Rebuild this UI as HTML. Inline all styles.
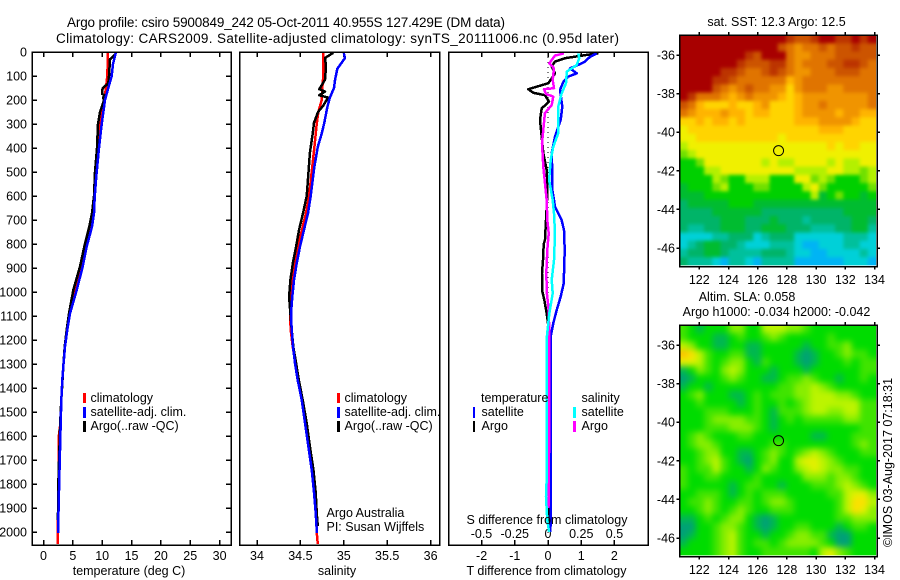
<!DOCTYPE html>
<html>
<head>
<meta charset="utf-8">
<style>
html,body{margin:0;padding:0;background:#fff;width:900px;height:580px;overflow:hidden}
svg{display:block}
text{font-family:"Liberation Sans",sans-serif;font-size:12.5px;fill:#000}
</style>
</head>
<body>
<svg id="fig" width="900" height="580" viewBox="0 0 900 580" xmlns="http://www.w3.org/2000/svg">
<defs>
<filter id="blurSst" x="-10%" y="-10%" width="120%" height="120%" color-interpolation-filters="sRGB"><feGaussianBlur stdDeviation="1.8"/></filter>
<filter id="blurSla" x="-10%" y="-10%" width="120%" height="120%" color-interpolation-filters="sRGB"><feGaussianBlur stdDeviation="3.2"/></filter>
<clipPath id="clipSst"><rect x="679.5" y="35" width="196.6" height="230.4"/></clipPath>
<clipPath id="clipSla"><rect x="679.5" y="325" width="196.6" height="230.4"/></clipPath>
</defs>
<rect width="900" height="580" fill="#fff"/>
<text x="67" y="27" style="font-size:13.5px" textLength="438">Argo profile: csiro 5900849_242 05-Oct-2011 40.955S 127.429E (DM data)</text>
<text x="56" y="43" style="font-size:13.5px" textLength="563">Climatology: CARS2009. Satellite-adjusted climatology: synTS_20111006.nc (0.95d later)</text>
<g id="plots"></g>
<text x="129" y="575" text-anchor="middle">temperature (deg C)</text>
<text x="337" y="575" text-anchor="middle">salinity</text>
<text x="546.5" y="575" text-anchor="middle">T difference from climatology</text>
<text x="547" y="524" text-anchor="middle">S difference from climatology</text>
<text x="326.5" y="517">Argo Australia</text>
<text x="326.5" y="531">PI: Susan Wijffels</text>

<g>
<rect x="83" y="393" width="3" height="10" fill="#f00"/>
<rect x="83" y="407" width="3" height="11" fill="#00f"/>
<rect x="83" y="421" width="3" height="11" fill="#000"/>
<text x="90.5" y="402">climatology</text>
<text x="90.5" y="416">satellite-adj. clim.</text>
<text x="90.5" y="430">Argo(..raw -QC)</text>
</g>
<g>
<rect x="337" y="393" width="3" height="10" fill="#f00"/>
<rect x="337" y="407" width="3" height="11" fill="#00f"/>
<rect x="337" y="421" width="3" height="11" fill="#000"/>
<text x="344.5" y="402">climatology</text>
<text x="344.5" y="416">satellite-adj. clim.</text>
<text x="344.5" y="430">Argo(..raw -QC)</text>
</g>
<g>
<text x="481" y="402">temperature</text>
<text x="581.5" y="402">salinity</text>
<rect x="473" y="407" width="2" height="11" fill="#00f"/>
<rect x="473" y="421" width="2" height="11" fill="#000"/>
<rect x="573" y="407" width="3" height="11" fill="#0ff"/>
<rect x="573" y="421" width="3" height="11" fill="#f0f"/>
<text x="481.5" y="416">satellite</text>
<text x="481.5" y="430">Argo</text>
<text x="581.5" y="416">satellite</text>
<text x="581.5" y="430">Argo</text>
</g>

<g id="maps"></g>
<text x="776.5" y="26" text-anchor="middle">sat. SST: 12.3 Argo: 12.5</text>
<text x="747" y="301" text-anchor="middle">Altim. SLA: 0.058</text>
<text x="776.5" y="316" text-anchor="middle">Argo h1000: -0.034 h2000: -0.042</text>
<text transform="translate(892,547) rotate(-90)">©IMOS 03-Aug-2017 07:18:31</text>
</svg>
<script>
// ---- axis tick values ----
const depthTicks = [0,100,200,300,400,500,600,700,800,900,1000,1100,1200,1300,1400,1500,1600,1700,1800,1900,2000];
const tempTicks = [0,5,10,15,20,25,30];
const salTicks = [34,34.5,35,35.5,36];
const salTickLabels = ['34','34.5','35','35.5','36'];
const dtTicks = [-2,-1,0,1,2];
const dtTickLabels = ['-2','-1','0','1','2'];
const dsTicks = [-0.5,-0.25,0,0.25,0.5];
const dsTickLabels = ['-0.5','-0.25','0','0.25','0.5'];
const lonTicks = [122,124,126,128,130,132,134];
const latTicks = [-36,-38,-40,-42,-44,-46];

// ---- temperature panel ----
const tClimDepth = [0,100,150,200,300,400,500,600,672,742,811,881,950,1019,1089,1158,1228,1311,1367,1450,1546,1600,1776,1950,2050];
const tClimValue = [10.99,10.87,10.65,10.31,9.63,9.28,8.94,8.72,8.42,7.95,7.14,6.45,5.66,5.12,4.4,4.0,3.63,3.37,3.2,3.03,2.9,2.6,2.6,2.45,2.42];
const tArgoDepth = [5,10,20,30,100,130,150,160,175,180,190,200,250,300,400,500,600,672,728,811,894,992,1089,1158,1228,1311,1450,1546,1776,1950];
const tArgoValue = [12.35,12.18,11.84,11.33,11.16,11.04,10.14,9.97,9.97,10.48,10.14,10.31,9.63,9.28,9.11,8.77,8.6,8.26,7.8,6.95,6.22,5.08,4.34,3.95,3.61,3.37,3.03,2.85,2.55,2.45];
const tSatDepth = [0,50,100,150,200,300,400,500,533,603,672,728,811,894,992,1089,1158,1228,1311,1367,1450,1546,1776,1950,2004];
const tSatValue = [12.35,11.84,11.62,11.04,10.48,9.91,9.45,9.06,8.94,8.72,8.6,8.26,7.36,6.68,5.66,4.51,4.05,3.66,3.37,3.2,3.03,2.93,2.69,2.52,2.5];

// ---- salinity panel ----
const sClimDepth = [0,100,150,200,250,300,400,500,600,672,742,811,881,950,1019,1089,1158,1228,1367,1546,1740,1919,2000,2050];
const sClimValue = [34.764,34.764,34.752,34.745,34.706,34.688,34.66,34.63,34.6,34.563,34.517,34.472,34.43,34.404,34.392,34.38,34.388,34.411,34.475,34.565,34.645,34.69,34.688,34.7];
const sArgoDepth = [3,25,60,115,155,165,180,190,225,250,295,340,420,517,600,672,742,811,881,950,1019,1089,1158,1228,1297,1367,1450,1546,1644,1740,1836,1919,1975];
const sArgoValue = [34.88,34.783,34.795,34.783,34.718,34.783,34.718,34.818,34.76,34.703,34.657,34.642,34.61,34.59,34.573,34.53,34.484,34.45,34.412,34.385,34.37,34.385,34.4,34.418,34.45,34.482,34.527,34.573,34.61,34.65,34.676,34.688,34.7];
const sSatDepth = [5,25,70,115,150,190,230,295,340,395,480,600,672,742,811,881,950,1019,1089,1158,1228,1297,1367,1450,1546,1644,1740,1836,1919,2004];
const sSatValue = [35.0,35.014,34.925,34.9,34.887,34.84,34.81,34.775,34.745,34.7,34.66,34.619,34.588,34.54,34.495,34.457,34.426,34.407,34.392,34.4,34.415,34.438,34.469,34.515,34.553,34.592,34.63,34.657,34.676,34.69];

// ---- difference panel ----
const dtArgoDepth = [6,12,26,40,61,89,110,130,155,170,180,207,235,283,353,422,492,547,620,700,783,800,867,922,992,1033,1089,1130,1990];
const dtArgoValue = [1.515,1.166,0.512,0.211,0.111,0.211,0.111,0.009,-0.593,-0.443,-0.09,0.03,-0.19,-0.241,-0.19,-0.142,-0.039,-0.021,-0.03,-0.06,-0.09,-0.13,-0.15,-0.18,-0.18,-0.111,-0.039,0,0.045];
const dtSatDepth = [6,20,40,54,68,89,103,125,158,228,283,353,422,506,575,617,644,700,742,825,964,1019,1075,1130,1186,1367,2000];
const dtSatValue = [1.467,1.265,1.114,0.904,0.663,0.864,0.602,0.461,0.361,0.431,0.383,0.211,0.111,0.13,0.13,0.18,0.211,0.41,0.482,0.503,0.473,0.383,0.262,0.16,0.081,0.081,0.075];
const dsSatDepth = [6,25,54,82,130,172,228,339,394,450,533,617,672,756,867,950,1006,1089,1186,1754,1853,1950,2000];
const dsSatValue = [0.228,0.235,0.216,0.141,0.135,0.103,0.077,0.077,0.04,0.02,0.008,0.035,0.045,0.053,0.045,0.028,0.035,0.01,-0.008,-0.008,-0.015,-0.005,0.008];
const dsArgoDepth = [6,15,47,68,117,151,155,175,186,221,255,381,478,589,617,700,756,825,922,1006,1075,1172,1540,1900];
const dsArgoValue = [0.12,0.053,0.01,0.045,0.035,0.045,-0.03,-0.015,0.04,0.028,-0.023,-0.045,-0.035,-0.015,-0.01,-0.005,0.005,-0.005,-0.013,-0.008,0.005,0.01,0.01,0.004];

// ---- SST map: colour-class per cell, north to south ----
const sstLevels = [
[0,0,0,0,0,0,0,0,0,0,0,0,0,1,2,2,1,0,0,1,1,0,1,0],
[0,0,0,0,0,0,0,0,0,0,0,0,2,3,4,3,3,2,3,2,2,1,2,2],
[0,0,0,0,0,0,0,0,1,2,0,0,0,3,4,4,3,3,3,2,2,2,2,2],
[0,0,0,0,0,0,0,1,2,2,2,1,1,3,4,3,3,3,2,2,1,1,2,3],
[0,0,0,0,0,1,1,2,3,3,2,1,2,3,4,4,3,3,3,2,2,2,3,3],
[0,0,0,0,1,1,2,3,3,3,3,3,3,5,4,3,3,3,3,3,3,3,3,3],
[0,0,0,0,2,3,4,3,2,3,3,4,4,6,4,3,3,3,4,4,3,3,3,3],
[0,1,3,3,3,4,5,4,3,4,4,4,5,6,5,4,4,4,4,4,4,4,4,3],
[2,3,5,6,6,6,5,6,6,5,4,6,6,6,5,4,4,3,4,4,4,4,4,3],
[3,4,5,5,5,4,5,5,6,5,5,6,6,6,5,4,4,4,4,5,4,4,5,5],
[6,6,5,6,5,5,6,5,6,6,6,6,6,6,5,5,5,4,4,4,4,5,6,6],
[7,6,6,6,6,6,6,6,6,6,6,6,6,6,6,6,6,5,5,5,6,6,6,6],
[7,7,6,6,6,6,6,6,6,6,6,6,7,6,6,6,6,6,6,6,6,6,6,6],
[8,7,7,7,7,7,7,7,7,7,7,7,7,7,7,7,7,7,6,7,6,6,7,7],
[9,8,7,7,7,7,7,7,7,7,7,7,7,7,7,7,7,7,7,7,7,7,7,7],
[10,10,9,7,7,7,7,7,7,7,8,7,8,8,7,7,7,7,8,7,8,8,7,7],
[10,10,10,8,8,7,7,7,7,7,7,7,7,7,8,8,8,8,7,7,8,8,9,8],
[10,10,10,10,8,9,10,10,8,8,8,10,10,10,7,7,9,8,9,10,10,10,9,8],
[11,10,10,10,9,8,10,10,10,9,9,10,10,10,10,8,7,9,10,10,10,10,10,9],
[11,11,11,10,10,10,10,10,10,10,10,10,10,10,10,10,8,11,10,9,10,10,11,10],
[12,11,11,11,11,11,10,10,10,11,11,11,11,11,11,11,11,11,11,11,11,11,11,11],
[12,12,12,12,11,11,11,11,11,11,12,12,12,12,12,12,12,12,12,12,11,11,11,11],
[12,12,12,12,12,11,11,11,12,12,12,11,12,12,12,13,12,12,12,12,12,11,11,12],
[12,13,13,12,12,11,11,11,12,12,11,11,11,12,12,12,13,13,13,12,12,11,11,13],
[14,14,14,14,13,13,12,12,12,14,13,12,12,12,14,14,14,14,14,14,13,13,13,14],
[14,13,12,11,11,12,12,13,14,14,14,13,13,13,14,15,15,14,14,14,13,13,14,14],
[13,12,12,11,11,12,13,13,13,13,12,12,12,13,14,14,15,15,14,14,14,14,13,14],
[12,13,13,13,14,15,13,13,14,15,13,13,13,13,15,15,15,15,15,15,14,14,14,15]
];
// ---- SLA map: colour-class per cell, north to south ----
const slaLevels = [
[3,2,1,2,2,2,4,4,2,2,5,5,5,4,4,3,2,2,2,2,2,2,2,2],
[3,2,2,2,1,1,2,3,2,2,3,4,3,2,2,2,2,2,3,2,2,2,2,2],
[5,4,2,2,1,1,2,2,1,1,2,2,2,2,2,1,2,2,3,3,4,2,2,2],
[8,7,5,3,2,2,3,3,1,1,2,2,2,2,1,0,1,2,2,3,4,3,3,2],
[6,6,5,3,2,3,4,4,2,1,3,2,2,2,1,0,1,2,2,2,3,2,3,3],
[1,2,4,3,2,4,5,4,2,2,2,1,2,2,2,1,2,2,2,2,2,2,3,3],
[0,1,2,2,2,3,4,3,2,2,1,1,2,3,3,4,3,2,2,1,2,2,3,2],
[1,2,2,1,2,2,2,2,2,2,2,2,3,3,4,4,5,4,3,2,2,2,2,2],
[2,3,4,2,2,2,1,1,2,3,2,3,3,3,4,4,5,5,5,4,4,3,2,2],
[2,2,3,2,2,2,2,1,2,3,2,2,3,2,3,4,5,5,5,5,5,5,3,3],
[2,2,2,3,3,3,2,2,2,3,2,1,3,3,3,4,5,5,4,4,5,5,3,3],
[2,2,2,3,4,4,4,4,3,3,2,1,2,3,2,3,3,3,3,3,4,4,3,3],
[2,2,2,3,3,3,4,4,4,3,2,1,2,2,2,2,2,2,2,2,2,2,3,3],
[2,3,4,3,2,2,2,3,3,2,2,2,2,2,2,2,1,1,2,2,2,3,3,3],
[2,3,4,4,3,2,2,2,2,2,2,3,3,2,2,2,2,2,2,2,2,3,4,3],
[2,2,3,4,4,2,2,1,1,2,3,4,3,2,3,4,5,4,3,2,2,2,3,3],
[2,2,3,4,5,3,2,1,0,2,3,4,2,2,5,6,6,5,4,3,2,2,2,2],
[3,2,3,3,5,3,2,2,1,2,4,3,2,2,4,5,6,5,4,4,3,3,2,2],
[3,2,2,3,3,2,2,2,2,3,2,2,2,2,2,4,4,4,3,4,4,3,2,2],
[3,2,2,2,2,2,1,2,3,3,2,2,1,2,2,2,3,3,3,4,5,4,3,2],
[2,2,3,3,3,2,1,2,3,2,3,3,3,2,2,2,2,2,3,3,5,6,6,4],
[2,3,3,4,3,2,2,3,3,2,3,4,4,3,2,2,2,2,2,3,5,7,7,5],
[2,2,3,4,3,2,3,4,3,2,2,3,3,3,2,2,2,2,2,3,5,7,6,4],
[1,1,2,3,2,3,4,4,2,1,0,1,2,2,2,2,2,2,2,3,3,4,4,4],
[0,0,2,2,3,4,4,3,2,1,0,1,2,2,3,3,2,2,2,1,2,3,3,2],
[0,1,2,2,3,4,5,3,2,2,1,2,2,3,4,4,3,3,1,0,0,2,2,2],
[1,2,2,2,3,4,5,3,2,3,3,2,3,4,4,4,4,3,2,0,0,2,2,2],
[2,2,2,2,3,4,5,3,2,2,3,3,3,3,3,3,2,5,6,4,3,2,2,2]
];
const profileLon = [127.429];
const profileLat = [-40.955];

const sstPalette = ['#a80000','#bc3400','#cc5400','#e07400','#f09400','#ffb400','#ffd400','#f0f000','#b4f000','#70e000','#00d000','#00bc30','#00b468','#00c09c','#00d0d8','#00b4f4'];
const slaPalette = ['#00a078','#00b850','#00dc00','#40e400','#88ee00','#bcf400','#e4f000','#fce000','#ffc000'];

const NS = 'http://www.w3.org/2000/svg';
const plotsG = document.getElementById('plots');
const mapsG = document.getElementById('maps');
const depthY = d => 52 + 0.24 * d;
const tempX = v => 43.5 + 5.87 * v;
const salX = v => 257 + 86.8 * (v - 34);
const dtX = v => 548 + 33.2 * v;
const dsX = v => 548 + 133 * v;
const lonX = v => 699.3 + 14.6 * (v - 122);
const lat1Y = v => 55 + 19.3 * (-36 - v);
const lat2Y = v => 345 + 19.3 * (-36 - v);

function mk(tag, parent, attrs) {
  const el = document.createElementNS(NS, tag);
  for (const k in attrs) el.setAttribute(k, attrs[k]);
  parent.appendChild(el);
  return el;
}
function tickLine(parent, x1, y1, x2, y2) {
  const el = mk('line', parent, {x1: x1, y1: y1, x2: x2, y2: y2, stroke: '#000', 'stroke-width': 1.5, 'shape-rendering': 'crispEdges'});
  
  
}
function tickText(parent, x, y, anchor, str) {
  const el = mk('text', parent, {x: x, y: y, 'text-anchor': anchor});
  el.textContent = str;
  
  
}
function frame(parent, x0, y0, x1, y1) {
  const el = mk('rect', parent, {x: x0, y: y0, width: x1 - x0, height: y1 - y0, fill: 'none', stroke: '#000', 'stroke-width': 1.5, 'shape-rendering': 'crispEdges'});
  
  
}
function profile(parent, depths, values, xf, color, width, name) {
  const pts = depths.map((d, i) => xf(values[i]).toFixed(1) + ',' + depthY(d).toFixed(1)).join(' ');
  const el = mk('polyline', parent, {points: pts, fill: 'none', stroke: color, 'stroke-width': width, 'shape-rendering': 'crispEdges', 'stroke-linejoin': 'round'});
  
  
}

// temperature panel
depthTicks.forEach(d => {
  tickLine(plotsG, 32, depthY(d), 37, depthY(d));
  tickLine(plotsG, 226, depthY(d), 231, depthY(d));
  tickText(plotsG, 27, depthY(d) + 4.5, 'end', String(d));
});
tempTicks.forEach(t => {
  tickLine(plotsG, tempX(t), 52, tempX(t), 57);
  tickLine(plotsG, tempX(t), 540, tempX(t), 545);
  tickText(plotsG, tempX(t), 560, 'middle', String(t));
});
profile(plotsG, tClimDepth, tClimValue, tempX, '#f00', 2.5, 'temperature-climatology-line');
profile(plotsG, tArgoDepth, tArgoValue, tempX, '#000', 2.5, 'temperature-argo-line');
profile(plotsG, tSatDepth, tSatValue, tempX, '#00f', 2.5, 'temperature-satellite-line');
frame(plotsG, 32, 52, 231, 545);

// salinity panel
salTicks.forEach((s, i) => {
  tickLine(plotsG, salX(s), 52, salX(s), 57);
  tickLine(plotsG, salX(s), 540, salX(s), 545);
  tickText(plotsG, salX(s), 560, 'middle', salTickLabels[i]);
});
profile(plotsG, sClimDepth, sClimValue, salX, '#f00', 2.5, 'salinity-climatology-line');
profile(plotsG, sArgoDepth, sArgoValue, salX, '#000', 2.5, 'salinity-argo-line');
profile(plotsG, sSatDepth, sSatValue, salX, '#00f', 2.5, 'salinity-satellite-line');
frame(plotsG, 239.5, 52, 439.5, 545);

// difference panel
dtTicks.forEach((t, i) => {
  tickLine(plotsG, dtX(t), 52, dtX(t), 57);
  tickLine(plotsG, dtX(t), 540, dtX(t), 545);
  tickText(plotsG, dtX(t), 560, 'middle', dtTickLabels[i]);
});
dsTicks.forEach((s, i) => {
  tickText(plotsG, dsX(s), 538, 'middle', dsTickLabels[i]);
});
const zeroLine = mk('line', plotsG, {x1: dtX(0), y1: 52, x2: dtX(0), y2: 545, stroke: '#000', 'stroke-width': 1, 'stroke-dasharray': '1 4', 'shape-rendering': 'crispEdges'});


profile(plotsG, dtArgoDepth, dtArgoValue, dtX, '#000', 2.5, 'delta-t-argo-line');
profile(plotsG, dtSatDepth, dtSatValue, dtX, '#00f', 2.5, 'delta-t-satellite-line');
profile(plotsG, dsArgoDepth, dsArgoValue, dsX, '#f0f', 2.5, 'delta-s-argo-line');
profile(plotsG, dsSatDepth, dsSatValue, dsX, '#0ff', 2.5, 'delta-s-satellite-line');
frame(plotsG, 448.5, 52, 648, 545);

// maps
function drawMap(levels, palette, top, latY, name, clipId, filterId) {
  const x0 = 679.5, w = 196.6, h = 230.4;
  const clipG = mk('g', mapsG, {'clip-path': 'url(#' + clipId + ')'});
  
  
  const g = mk('g', clipG, {filter: 'url(#' + filterId + ')'});
  
  
  const rows = levels.length, cols = levels[0].length;
  const cw = w / cols, ch = h / rows;
  const pad = 12;
  levels.forEach((row, r) => {
    row.forEach((v, c) => {
      // outer cells bleed past the clip so the blur does not fade at the map edge
      const left = c === 0 ? pad : 0;
      const right = c === cols - 1 ? pad : 0;
      const up = r === 0 ? pad : 0;
      const down = r === rows - 1 ? pad : 0;
      const cell = mk('rect', g, {x: x0 + c * cw - left, y: top + r * ch - up, width: cw + 0.6 + left + right, height: ch + 0.6 + up + down, fill: palette[v]});
      
      
    });
  });
  frame(mapsG, x0, top, 877, top + 231.5);
  lonTicks.forEach(lon => {
    tickLine(mapsG, lonX(lon), top - 3, lonX(lon), top);
    tickLine(mapsG, lonX(lon), top + 231.5, lonX(lon), top + 234.5);
    tickText(mapsG, lonX(lon), top + 249, 'middle', String(lon));
  });
  latTicks.forEach(lat => {
    tickLine(mapsG, x0 - 3, latY(lat), x0, latY(lat));
    tickLine(mapsG, 877, latY(lat), 880, latY(lat));
    tickText(mapsG, 675, latY(lat) + 4.5, 'end', String(lat));
  });
  const marker = mk('circle', mapsG, {cx: lonX(profileLon[0]), cy: latY(profileLat[0]), r: 5, fill: 'none', stroke: '#000', 'stroke-width': 1});
  
  
}
drawMap(sstLevels, sstPalette, 35, lat1Y, 'sst-heatmap', 'clipSst', 'blurSst');
drawMap(slaLevels, slaPalette, 325, lat2Y, 'sla-heatmap', 'clipSla', 'blurSla');
</script>
</body>
</html>
